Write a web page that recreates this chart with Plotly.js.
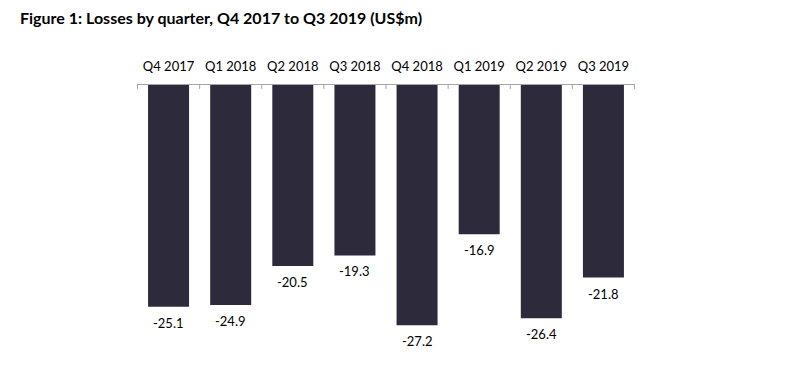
<!DOCTYPE html>
<html><head><meta charset="utf-8">
<script src="https://cdn.plot.ly/plotly-3.0.1.min.js"></script>
<style>body{margin:0;background:#fff}#c{width:800px;height:384px}</style>
</head><body><div id="c"></div>
<script>
var quarters = ["Q4 2017","Q1 2018","Q2 2018","Q3 2018","Q4 2018","Q1 2019","Q2 2019","Q3 2019"];
var losses = [-25.1,-24.9,-20.5,-19.3,-27.2,-16.9,-26.4,-21.8];
var labels = losses.map(function(v){return v.toFixed(1);});

var font = "Lato, 'Open Sans', sans-serif";
var anns = quarters.map(function(q,i){
  return {x:q, y:losses[i], xref:'x', yref:'y', text:labels[i], showarrow:false,
    yanchor:'top', yshift:-6, font:{family:font, size:13, color:'#000'}};
});
anns.push({xref:'paper', yref:'paper', x:(18-137)/498, y:1+ (85-17)/265, xanchor:'left', yanchor:'middle',
  text:'<b>Figure 1: Losses by quarter, Q4 2017 to Q3 2019 (US$m)</b>', showarrow:false,
  font:{family:font, size:16, color:'#000'}});

// category boundary tick marks
var shapes = [];
for (var i = 0; i <= quarters.length; i++) {
  shapes.push({type:'line', xref:'x', yref:'paper', x0:i-0.5, x1:i-0.5, y0:1, y1:1-4/265,
    line:{color:'#a6a6a6', width:1}});
}

var data = [{type:'bar', x:quarters, y:losses, marker:{color:'#2d2a3b'}, hoverinfo:'none'}];
var layout = {
  width:800, height:384, margin:{l:137, r:165, t:85, b:34},
  paper_bgcolor:'#fff', plot_bgcolor:'#fff', bargap:0.34, showlegend:false,
  xaxis:{side:'top', type:'category', showline:true, linecolor:'#a6a6a6', linewidth:1,
    ticks:'', ticklabelstandoff:8,
    tickfont:{family:font, size:13, color:'#000'}, showgrid:false, zeroline:false},
  yaxis:{range:[-30,0], visible:false, showgrid:false, zeroline:false, fixedrange:true},
  shapes:shapes,
  annotations:anns
};
Plotly.newPlot('c', data, layout, {displayModeBar:false, staticPlot:true});
</script></body></html>
